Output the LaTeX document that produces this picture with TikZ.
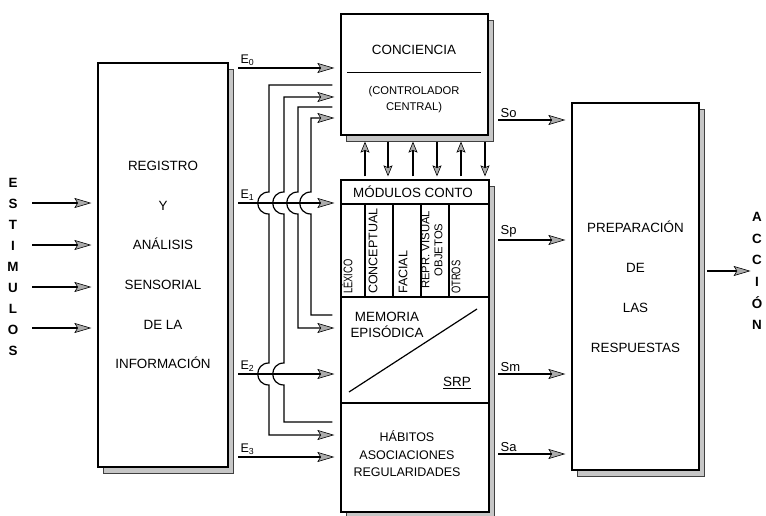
\documentclass[tikz,border=0pt]{standalone}
\usepackage{fontspec}
\setmainfont{Liberation Sans}
\usetikzlibrary{arrows.meta,shadows}
\tikzset{
  caja/.style={draw, fill=white, line width=1.3pt, inner sep=0pt,
    general shadow={fill=gray!45, draw=black!75, line width=0.6pt,
      shadow xshift=5pt, shadow yshift=-6pt}},
  txt/.style={font=\fontsize{13.4}{16}\selectfont, inner sep=0pt, align=center},
  col/.style={font=\fontsize{12.5}{13}\selectfont, inner sep=0pt, rotate=90, anchor=west, align=center},
  flecha/.style={line width=1.2pt,
    -{Stealth[length=17pt,width=10pt,inset=3pt,fill=gray!65,line width=0.6pt]}},
  flechita/.style={line width=1.2pt,
    -{Stealth[length=11pt,width=9pt,inset=2pt,fill=gray!65,line width=0.6pt]}},
  linea/.style={line width=1.2pt},
}
% saltos de las lineas de retorno
\newcommand{\bajar}[2]{-- (#1,#2-11) .. controls (#1-15,#2-11) and (#1-15,#2+11) .. (#1,#2+11)}
\newcommand{\subir}[2]{-- (#1,#2+11) .. controls (#1-15,#2+11) and (#1-15,#2-11) .. (#1,#2-11)}
\begin{document}
\begin{tikzpicture}[x=1pt,y=-1pt]
  \useasboundingbox (0,0) rectangle (766,516);
  %Estimulos
  \node[txt, font=\bfseries\fontsize{13.4}{21}\selectfont] (est) at (13,267) {E\\S\\T\\I\\M\\U\\L\\O\\S};
  %Caja 1
  \node[caja, txt, minimum width=130pt, minimum height=404pt,
    font=\fontsize{13.4}{39.6}\selectfont] (reg) at (163,265)
    {REGISTRO\\Y\\ANÁLISIS\\SENSORIAL\\DE LA\\INFORMACIÓN};
  \foreach \y [count=\i] in {203,245,287,328} {
    \coordinate (s\i) at (32,\y);
    \draw[flecha, shorten >=6pt] (s\i) -- (s\i -| reg.west);
  }
  %Caja 2: conciencia
  \node[caja, minimum width=147pt, minimum height=121pt] (conc) at (414.5,74.5) {};
  \node[txt] (concT) at (414,50) {CONCIENCIA};
  \draw[line width=0.9pt] (347,72) -- (481,72);
  \node[txt, font=\fontsize{11.2}{16}\selectfont] (ctrl) at (414,100) {(CONTROLADOR\\CENTRAL)};
  %Caja 3: modulos, memoria, habitos
  \node[caja, minimum width=148pt, minimum height=332pt] (low) at (415,346) {};
  \draw[linea] (341,204) -- (489,204);
  \draw[linea] (341,297) -- (489,297);
  \draw[linea] (341,403) -- (489,403);
  \foreach \x in {365,393,421,449}
    \draw[linea] (\x,204) -- (\x,297);
  \node[txt] (mod) at (413,192) {MÓDULOS CONTO};
  \node[col] (lex) at (347,294) {\scalebox{0.75}[1]{LÉXICO}};
  \node[col] (cpt) at (373,294) {CONCEPTUAL};
  \node[col] (fac) at (403,294) {FACIAL};
  \node[col, font=\fontsize{11.3}{13}\selectfont] (rep) at (432,289) {REPR. VISUAL\\OBJETOS};
  \node[col] (otr) at (456,294) {\scalebox{0.75}[1]{OTROS}};
  \node[txt] (mem) at (387,325) {MEMORIA\\EPISÓDICA};
  \draw[linea] (349,392) -- (477,309);
  \node[txt] (srp) at (457,383) {\underline{SRP}};
  \node[txt, font=\fontsize{12.5}{17.5}\selectfont] (hab) at (407,454) {HÁBITOS\\ASOCIACIONES\\REGULARIDADES};
  %Flechas entre conciencia y modulos
  \foreach \x [count=\i] in {365,388,413,437,461,485}
    \coordinate (v\i) at (\x,0);
  \foreach \i in {1,3,5}
    \draw[flechita, shorten <=3pt, shorten >=6pt] (low.north -| v\i) -- (conc.south -| v\i);
  \foreach \i in {2,4,6}
    \draw[flechita, shorten <=6pt, shorten >=3pt] (conc.south -| v\i) -- (low.north -| v\i);
  %Lineas de retorno
  \coordinate (a1) at (269,85);  \coordinate (a2) at (269,435);
  \coordinate (b1) at (284,97);  \coordinate (b2) at (284,422);
  \coordinate (c1) at (298,107); \coordinate (c2) at (298,328);
  \coordinate (d1) at (311,118); \coordinate (d2) at (311,315);
  \draw[flecha, shorten <=8pt, shorten >=6pt] (a1 -| conc.west) -- (a1)
    \bajar{269}{203} \bajar{269}{374} -- (a2) -- (a2 -| low.west);
  \draw[flecha, shorten <=8pt, shorten >=6pt] (b2 -| low.west) -- (b2)
    \subir{284}{374} \subir{284}{203} -- (b1) -- (b1 -| conc.west);
  \draw[flecha, shorten <=8pt, shorten >=6pt] (c1 -| conc.west) -- (c1)
    \bajar{298}{203} -- (c2) -- (c2 -| low.west);
  \draw[flecha, shorten <=8pt, shorten >=6pt] (d2 -| low.west) -- (d2)
    \subir{311}{203} -- (d1) -- (d1 -| conc.west);
  %Entradas E
  \coordinate (e0) at (238,68);
  \coordinate (e1) at (238,203);
  \coordinate (e2) at (238,374);
  \coordinate (e3) at (238,457);
  \draw[flecha, shorten >=6pt] (e0) -- (e0 -| conc.west)
    node[pos=0, above right, txt, font=\fontsize{12.5}{14}\selectfont, inner sep=2pt] {E\textsubscript{0}};
  \foreach \i in {1,2,3}
    \draw[flecha, shorten >=6pt] (e\i) -- (e\i -| low.west)
      node[pos=0, above right, txt, font=\fontsize{12.5}{14}\selectfont, inner sep=2pt] {E\textsubscript{\i}};
  %Caja 4: respuestas
  \node[caja, txt, minimum width=127pt, minimum height=367pt,
    font=\fontsize{13.4}{40}\selectfont] (prep) at (635.5,286.5)
    {PREPARACIÓN\\DE\\LAS\\RESPUESTAS};
  %Salidas S
  \foreach \y/\s in {120/o,240/p,374/m,454/a} {
    \coordinate (S\s) at (498,\y);
    \draw[flecha, shorten >=6pt] (S\s) -- (S\s -| prep.west)
      node[pos=0, above right, txt, font=\fontsize{13}{14}\selectfont, inner sep=2pt] {S\s};
  }
  %Accion
  \node[txt, font=\bfseries\fontsize{13.4}{21.6}\selectfont] (acc) at (757,271) {A\\C\\C\\I\\Ó\\N};
  \coordinate (ac) at (707,271);
  \draw[flecha, shorten >=1pt] (ac) -- (ac -| acc.west);
\end{tikzpicture}
\end{document}
